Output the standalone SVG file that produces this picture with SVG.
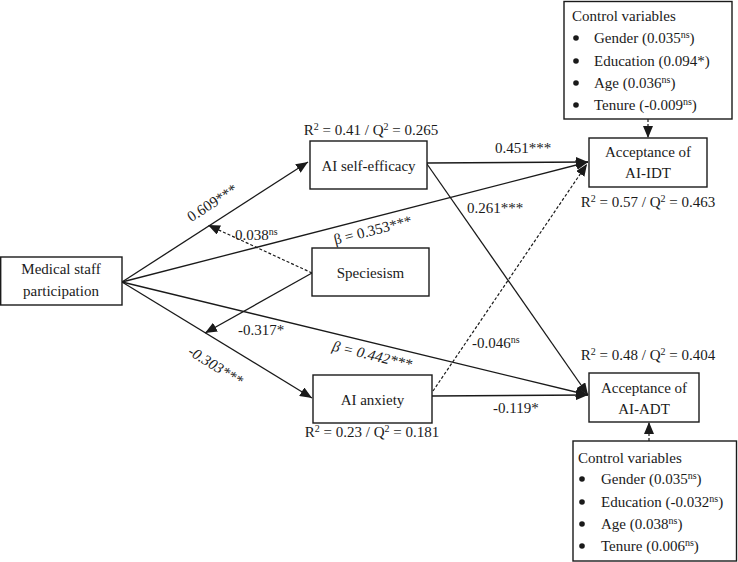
<svg xmlns="http://www.w3.org/2000/svg" width="738" height="562" viewBox="0 0 738 562" font-family="'Liberation Serif', 'Times New Roman', 'DejaVu Serif', serif">
<defs>
<style>
text{font-family:'Liberation Serif','Times New Roman','DejaVu Serif',serif;font-size:15px;fill:#1a1a1a}
.c{text-anchor:middle}
.box{fill:#fff;stroke:#1a1a1a;stroke-width:1.4}
.ln{fill:none;stroke:#1a1a1a;stroke-width:1.3}
.ds{fill:none;stroke:#1a1a1a;stroke-width:1.2;stroke-dasharray:3,2}
.sup{font-size:10px}
.it{font-style:italic}
</style>
<marker id="ah" viewBox="0 0 12 10" refX="12" refY="5" markerWidth="12" markerHeight="10" markerUnits="userSpaceOnUse" orient="auto"><path d="M0,0 L12,5 L0,10 z" fill="#1a1a1a"/></marker>
</defs>
<rect width="738" height="562" fill="#fff"/>

<g id="connectors">
<line class="ln" x1="122" y1="282" x2="308" y2="162" marker-end="url(#ah)"/>
<line class="ln" x1="122" y1="282" x2="588" y2="162" marker-end="url(#ah)"/>
<line class="ln" x1="122" y1="282" x2="588" y2="395" marker-end="url(#ah)"/>
<line class="ln" x1="122" y1="282" x2="312" y2="398" marker-end="url(#ah)"/>
<line class="ds" x1="312" y1="273" x2="208" y2="225" marker-end="url(#ah)"/>
<line class="ln" x1="312" y1="273" x2="205" y2="333" marker-end="url(#ah)"/>
<line class="ln" x1="427" y1="163" x2="588" y2="162" marker-end="url(#ah)"/>
<line class="ln" x1="427" y1="164" x2="588" y2="395" marker-end="url(#ah)"/>
<line class="ln" x1="432" y1="396" x2="588" y2="395" marker-end="url(#ah)"/>
<line class="ds" x1="433" y1="391" x2="587" y2="164" marker-end="url(#ah)"/>
<line class="ds" x1="648" y1="119" x2="648" y2="138" marker-end="url(#ah)"/>
<line class="ds" x1="649" y1="441" x2="649" y2="422" marker-end="url(#ah)"/>
</g>

<g id="labels">
<text class="c" transform="translate(215,207) rotate(-32.8)">0.609***</text>
<text class="c" transform="translate(374,235) rotate(-14.3)">β = 0.353***</text>
<text class="c it" transform="translate(371,360) rotate(13.6)">β = 0.442***</text>
<text class="c it" transform="translate(213,370) rotate(31.7)">-0.303***</text>
<text x="235" y="240">0.038<tspan class="sup" dy="-5">ns</tspan></text>
<text x="238" y="335">-0.317*</text>
<text class="c" x="523" y="153">0.451***</text>
<text x="467" y="213">0.261***</text>
<text x="472" y="348">-0.046<tspan class="sup" dy="-5">ns</tspan></text>
<text x="493" y="413">-0.119*</text>
<text class="c" x="371" y="135">R<tspan class="sup" dy="-5">2</tspan><tspan dy="5"> = 0.41 / Q</tspan><tspan class="sup" dy="-5">2</tspan><tspan dy="5"> = 0.265</tspan></text>
<text class="c" x="372" y="437">R<tspan class="sup" dy="-5">2</tspan><tspan dy="5"> = 0.23 / Q</tspan><tspan class="sup" dy="-5">2</tspan><tspan dy="5"> = 0.181</tspan></text>
<text class="c" x="648" y="207">R<tspan class="sup" dy="-5">2</tspan><tspan dy="5"> = 0.57 / Q</tspan><tspan class="sup" dy="-5">2</tspan><tspan dy="5"> = 0.463</tspan></text>
<text class="c" x="648" y="360">R<tspan class="sup" dy="-5">2</tspan><tspan dy="5"> = 0.48 / Q</tspan><tspan class="sup" dy="-5">2</tspan><tspan dy="5"> = 0.404</tspan></text>
</g>

<g id="medical">
<rect class="box" x="0.7" y="257" width="121.3" height="48"/>
<text class="c" x="61" y="274">Medical staff</text>
<text class="c" x="61" y="296">participation</text>
</g>

<g id="self-efficacy">
<rect class="box" x="310" y="141" width="117" height="48"/>
<text class="c" x="368.5" y="171">AI self-efficacy</text>
</g>

<g id="speciesism">
<rect class="box" x="312" y="248" width="117" height="48"/>
<text class="c" x="370.5" y="278">Speciesism</text>
</g>

<g id="anxiety">
<rect class="box" x="313" y="375" width="119" height="48"/>
<text class="c" x="372.5" y="405">AI anxiety</text>
</g>

<g id="acc-idt">
<rect class="box" x="589" y="138" width="118" height="49"/>
<text class="c" x="648" y="157">Acceptance of</text>
<text class="c" x="648" y="178">AI-IDT</text>
</g>

<g id="acc-adt">
<rect class="box" x="589" y="373" width="110" height="49"/>
<text class="c" x="644" y="393">Acceptance of</text>
<text class="c" x="644" y="414">AI-ADT</text>
</g>

<g id="control-top">
<rect class="box" x="564" y="1.5" width="168" height="117.5"/>
<text x="572" y="21">Control variables</text>
<circle cx="576" cy="38" r="2.8" fill="#1a1a1a"/>
<circle cx="576" cy="61" r="2.8" fill="#1a1a1a"/>
<circle cx="576" cy="83" r="2.8" fill="#1a1a1a"/>
<circle cx="576" cy="105" r="2.8" fill="#1a1a1a"/>
<text x="594" y="43">Gender (0.035<tspan class="sup" dy="-5">ns</tspan><tspan dy="5">)</tspan></text>
<text x="594" y="66">Education (0.094*)</text>
<text x="594" y="88">Age (0.036<tspan class="sup" dy="-5">ns</tspan><tspan dy="5">)</tspan></text>
<text x="594" y="110">Tenure (-0.009<tspan class="sup" dy="-5">ns</tspan><tspan dy="5">)</tspan></text>
</g>

<g id="control-bottom">
<rect class="box" x="573" y="441" width="163.5" height="120"/>
<text x="578" y="463">Control variables</text>
<circle cx="582" cy="479" r="2.8" fill="#1a1a1a"/>
<circle cx="582" cy="502" r="2.8" fill="#1a1a1a"/>
<circle cx="582" cy="524" r="2.8" fill="#1a1a1a"/>
<circle cx="582" cy="546" r="2.8" fill="#1a1a1a"/>
<text x="601" y="484">Gender (0.035<tspan class="sup" dy="-5">ns</tspan><tspan dy="5">)</tspan></text>
<text x="601" y="507">Education (-0.032<tspan class="sup" dy="-5">ns</tspan><tspan dy="5">)</tspan></text>
<text x="601" y="529">Age (0.038<tspan class="sup" dy="-5">ns</tspan><tspan dy="5">)</tspan></text>
<text x="601" y="551">Tenure (0.006<tspan class="sup" dy="-5">ns</tspan><tspan dy="5">)</tspan></text>
</g>
</svg>
